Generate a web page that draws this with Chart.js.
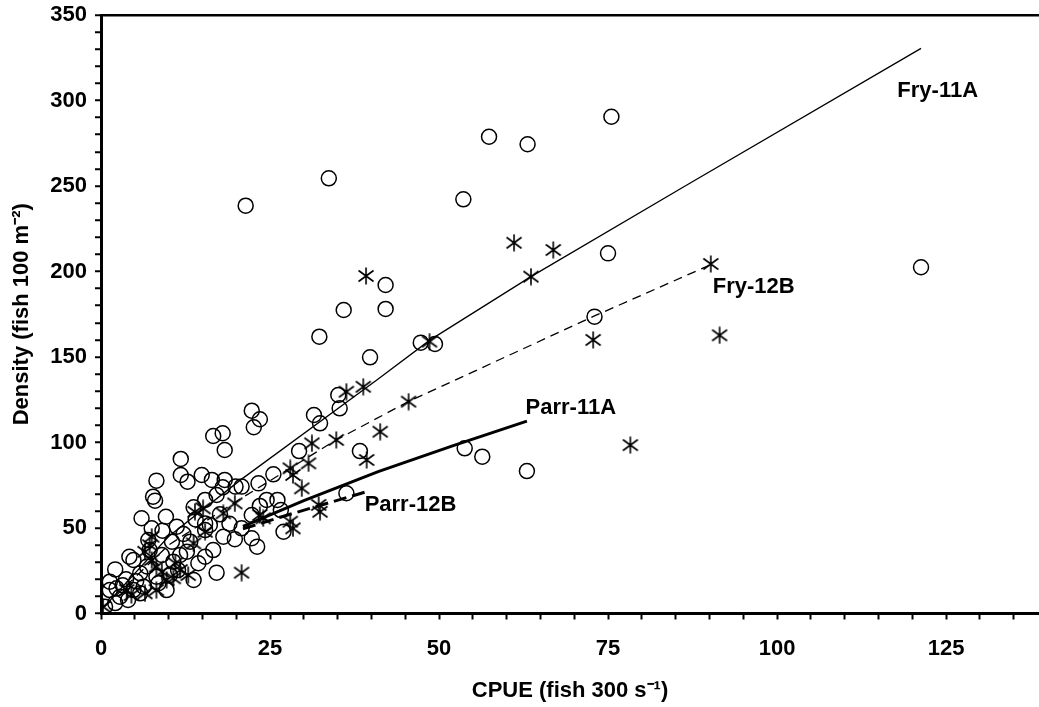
<!DOCTYPE html>
<html>
<head>
<meta charset="utf-8">
<script src="https://cdn.jsdelivr.net/npm/chart.js@4/dist/chart.umd.min.js"></script>
<style>
  html, body { margin: 0; padding: 0; background: #fff; overflow: hidden; }
  canvas { display: block; }
</style>
</head>
<body>
<canvas id="chart" width="1039" height="707"></canvas>
<script>
var circlePts = [
  [21.4,238.5],[33.7,254.5],[53.6,242.2],[57.4,278.8],[63.1,274.4],[75.5,290.5],[121.3,202.5],
  [75.0,210.6],[73.0,173.6],[49.4,157.6],[47.3,158.4],[42.1,192.1],[42.1,178.1],[35.9,177.5],
  [32.3,161.9],[39.8,149.8],[53.8,96.6],[56.4,91.7],[63.0,83.3],
  [35.1,127.8],[35.3,120],[31.5,116.1],[32.4,111.2],[22.3,118.6],[23.5,113.6],[22.6,108.9],
  [38.3,95],[29.3,95],[36.3,70.3],[25.5,81.4],[23.3,76.1],[20.8,74.2],[24.5,66.4],[26.1,66.4],
  [26.6,60.5],[23.5,62.9],[22.3,57.6],[27.0,47.8],[20.8,49.8],[22.3,44],[23.1,39.1],
  [16.6,103.8],[18.0,105.4],[18.3,95.6],[11.8,90.4],[11.8,81],[12.8,77.1],[8.2,77.7],[14.9,81],
  [16.4,78.1],[18.3,78.1],[18.0,73.8],[19.9,74.2],[7.7,68.3],[15.4,66.4],[17.1,69.3],[13.7,62.1],
  [8.0,66],[6.0,55.7],[9.6,56.6],[7.5,49.8],[9.1,48.4],[11.2,50.8],[7.0,43],[4.2,33.2],[2.1,25.8],
  [1.3,18.6],[2.3,14.7],[3.7,20],[4.8,31.3],[5.8,23.5],[0.6,4],[2.1,6.1],[13.2,42],[12.7,36.1],
  [15.4,33.2],[16.6,37.1],[14.4,29.4],[13.7,19.6],[17.1,23.9],[19.8,43.4],[18.1,44.9],[16.1,51.8],
  [10.2,22.5],[8.2,21.5],[11.4,25.4],[4.8,13.7],[6.3,15.7],[9.7,13.7],[2.8,9.8],[4.0,7.9],[8.5,17.7],
  [11.7,34.2],[10.7,30.3],[9.0,34.2],[7.2,37.1],[1.3,13.7],[15.4,52.7],[15.4,48.8],[5.8,11.8],
  [3.2,16.5],[5.2,18.8],[6.8,27.5],[12.2,46.5],[14.0,55.0],[17.6,58.0],[19.0,52.5],[10.5,42.0]
];
var starPts = [
  [39.2,197.4],[61.1,216.8],[66.9,212.6],[63.6,197],[90.2,204.4],[91.5,162.7],[72.8,160],[48.6,159],
  [78.3,98.5],[38.8,132.6],[36.3,129.7],[45.5,123.9],[41.3,106.3],[39.3,89.8],[34.8,101.5],[31.2,99.5],
  [30.7,87.8],[28.0,84.9],[28.4,81],[29.7,73.2],[32.2,63.5],[32.4,59.5],[23.5,57.6],[24,55.7],[28,53.7],
  [28.4,49.8],[20.8,23.9],
  [15.1,61.5],[13.9,59.5],[18.1,58.6],[19.8,64.4],[15.4,47.8],[13.7,41],[7.2,40],[6.5,36.1],[8.2,27.4],
  [9.0,24.4],[11,29.4],[11.7,25.4],[10.7,20.6],[12.9,22.5],[8.2,13.7],[3.8,13.7],[4.5,10.8],[6.5,11.8],
  [0.3,4],[9.7,19.6],[7.5,31.3],[7.5,44.9]
];

// fitted curves
var fry11A  = [[0.5,4],[10,45],[20.6,78],[40.8,136.5],[48.7,160],[63.6,197],[87.1,251.6],[121.3,330.5]];
var fry12B  = [[0.5,4],[10,40],[20.6,67],[34.8,101.5],[45.5,124],[73,174],[90.2,204]];
var parr11A = [[21,51],[30,66],[41,83],[52,98],[63,112.5]];
var parr12B = [[21,49.5],[27,56.9],[39.5,71.5]];

var curveNames = ['Fry-11A', 'Fry-12B', 'Parr-11A', 'Parr-12B'];

var xTickVals = [];
for (var i = 0; i <= 135; i += 5) xTickVals.push(i);
var yTickVals = [];
for (var j = 0; j <= 350; j += 10) yTickVals.push(j);

// where the curve names sit (data units, left / middle of text)
var labelSpots = [[117.8,305.5],[90.5,191],[62.8,120.2],[39.0,63.5]];

function toXY(a) { return a.map(function (p) { return {x: p[0], y: p[1]}; }); }

// asterisk marker: vertical bar plus an X
var star = document.createElement('canvas');
star.width = 18; star.height = 18;
(function () {
  var c = star.getContext('2d');
  c.strokeStyle = '#000';
  c.lineWidth = 1.6;
  c.beginPath();
  c.moveTo(9, 0.5);  c.lineTo(9, 17.5);
  c.moveTo(1.5, 3.5); c.lineTo(16.5, 14.5);
  c.moveTo(16.5, 3.5); c.lineTo(1.5, 14.5);
  c.stroke();
})();

var FONT = 'Liberation Sans, Arial, sans-serif';

var curveLabels = {
  id: 'curveLabels',
  afterDatasetsDraw: function (chart) {
    var ctx = chart.ctx, xs = chart.scales.x, ys = chart.scales.y;
    ctx.save();
    ctx.fillStyle = '#000';
    ctx.font = 'bold 22px ' + FONT;
    ctx.textAlign = 'left';
    ctx.textBaseline = 'middle';
    curveNames.forEach(function (n, k) {
      ctx.fillText(n, xs.getPixelForValue(labelSpots[k][0]), ys.getPixelForValue(labelSpots[k][1]));
    });
    ctx.restore();
  }
};

function curve(data, width, dash) {
  return {
    type: 'line', data: toXY(data), borderColor: '#000', borderWidth: width,
    borderDash: dash, pointRadius: 0, fill: false, tension: 0
  };
}

var chart = new Chart(document.getElementById('chart'), {
  type: 'scatter',
  data: {
    datasets: [
      curve(fry11A, 1.3, []),
      curve(fry12B, 1.3, [9, 6]),
      curve(parr11A, 3, []),
      curve(parr12B, 3, [13, 6]),
      {
        data: toXY(starPts), pointStyle: star, pointRadius: 8, borderColor: '#000'
      },
      {
        data: toXY(circlePts), pointStyle: 'circle', pointRadius: 7.5, borderWidth: 1.5,
        borderColor: '#000', backgroundColor: 'rgba(0,0,0,0)'
      }
    ]
  },
  options: {
    responsive: false,
    animation: false,
    devicePixelRatio: 1,
    layout: { padding: 0, autoPadding: false },
    plugins: { legend: { display: false }, tooltip: { enabled: false } },
    scales: {
      x: {
        type: 'linear', min: 0, max: 138.75,
        afterBuildTicks: function (s) { s.ticks = xTickVals.map(function (v) { return {value: v}; }); },
        afterFit: function (s) { s.height = 93.5; s.paddingLeft = 0; s.paddingRight = 0; },
        ticks: {
          autoSkip: false, maxRotation: 0, padding: 16, color: '#000',
          font: { family: FONT, size: 22, weight: 'bold' },
          callback: function (v) { return v % 25 === 0 ? v : ''; }
        },
        grid: { drawOnChartArea: false, tickLength: 6, tickColor: '#000', tickWidth: 2 },
        border: { color: '#000', width: 3 },
        title: {
          display: true, text: 'CPUE (fish 300 s\u207B\u00B9)', color: '#000',
          font: { family: FONT, size: 22, weight: 'bold' }, padding: { top: 0, bottom: 3 }
        }
      },
      y: {
        type: 'linear', min: 0, max: 350,
        afterBuildTicks: function (s) { s.ticks = yTickVals.map(function (v) { return {value: v}; }); },
        afterFit: function (s) { s.width = 101; s.paddingTop = 15; s.paddingBottom = 0; },
        ticks: {
          autoSkip: false, padding: 8, color: '#000',
          font: { family: FONT, size: 22, weight: 'bold' },
          callback: function (v) { return v % 50 === 0 ? v : ''; }
        },
        grid: {
          drawOnChartArea: true,
          color: function (c) { return c.tick && c.tick.value === 350 ? '#000' : 'rgba(0,0,0,0)'; },
          lineWidth: 2.5,
          tickLength: 6, tickColor: '#000', tickWidth: 2
        },
        border: { color: '#000', width: 3 },
        title: {
          display: true, text: 'Density (fish 100 m\u207B\u00B2)', color: '#000',
          font: { family: FONT, size: 22, weight: 'bold' }, padding: { top: 9, bottom: 0 }
        }
      }
    }
  },
  plugins: [curveLabels]
});
</script>
</body>
</html>
